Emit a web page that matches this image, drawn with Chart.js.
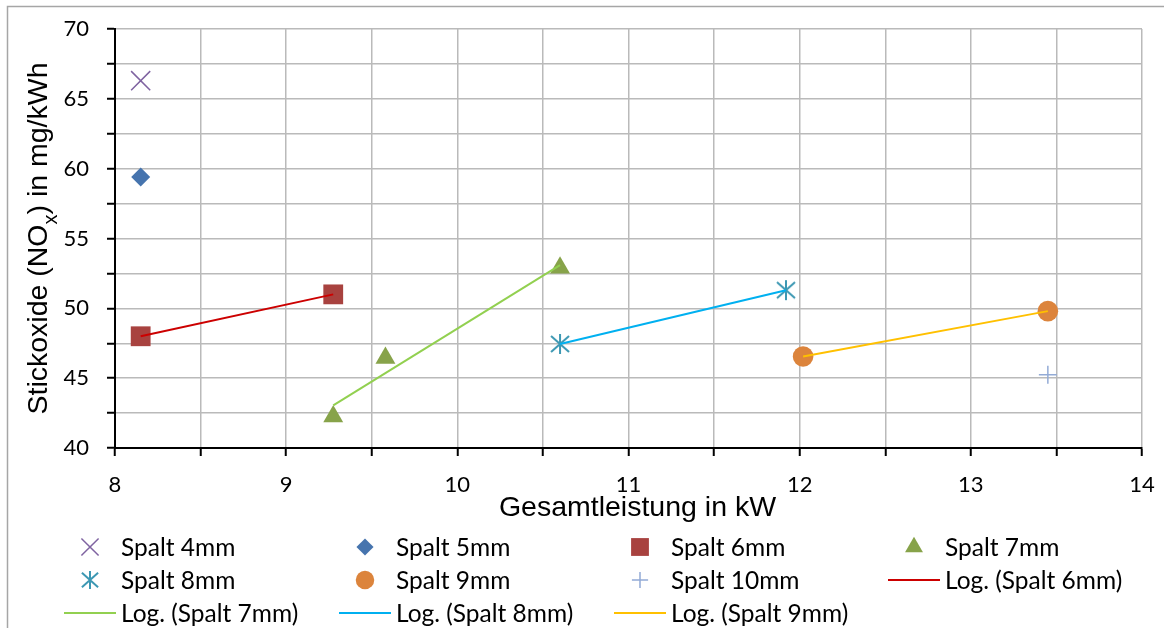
<!DOCTYPE html>
<html>
<head>
<meta charset="utf-8">
<script src="https://cdn.jsdelivr.net/npm/chart.js@4.4.1/dist/chart.umd.min.js"></script>
<style>
  html, body { margin: 0; padding: 0; background: #fff; }
  #wrap { width: 1164px; height: 628px; }
</style>
</head>
<body>
<div id="wrap"><canvas id="chart" width="1164" height="628"></canvas></div>
<script>
(function () {
    "use strict";

    // Messwerte: x = Gesamtleistung in kW, y = NOx in mg/kWh
    var spalt4X = [8.15],               spalt4Y = [66.3];
    var spalt5X = [8.15],               spalt5Y = [59.4];
    var spalt6X = [8.15, 9.275],        spalt6Y = [48.0, 51.0];
    var spalt7X = [9.275, 9.58, 10.6],  spalt7Y = [42.25, 46.45, 52.9];
    var spalt8X = [10.6, 11.92],        spalt8Y = [47.45, 51.3];
    var spalt9X = [12.02, 13.45],       spalt9Y = [46.55, 49.8];
    var spalt10X = [13.45],             spalt10Y = [45.25];

    // Log. Trendlinien (Endpunkte)
    var log6X = [8.15, 9.275],  log6Y = [48.0, 51.0];
    var log7X = [9.275, 10.6],  log7Y = [43.05, 53.1];
    var log8X = [10.6, 11.92],  log8Y = [47.45, 51.3];
    var log9X = [12.02, 13.45], log9Y = [46.55, 49.8];

    // Achsenbeschriftung
    var xTickLabels = [8, 9, 10, 11, 12, 13, 14];
    var yTickLabels = [40, 45, 50, 55, 60, 65, 70];

    function pts(xs, ys) {
        return xs.map(function (x, i) { return {x: x, y: ys[i]}; });
    }

    // Excel-Sternchen: X mit senkrechtem Strich
    function asterisk(size, color, lw) {
        var c = document.createElement('canvas');
        c.width = size; c.height = size;
        var g = c.getContext('2d');
        var m = size / 2, r = size / 2 - 1;
        g.strokeStyle = color;
        g.lineWidth = lw;
        g.beginPath();
        g.moveTo(m, m - r); g.lineTo(m, m + r);
        g.moveTo(m - r * 0.9, m - r * 0.8); g.lineTo(m + r * 0.9, m + r * 0.8);
        g.moveTo(m - r * 0.9, m + r * 0.8); g.lineTo(m + r * 0.9, m - r * 0.8);
        g.stroke();
        return c;
    }

    var starBig = asterisk(22, '#3D98B3', 2);
    var starSmall = asterisk(20, '#3D98B3', 2);

    function marker(label, xs, ys, style, radius, color, bw, legendStyle) {
        return {
            label: label,
            data: pts(xs, ys),
            pointStyle: style,
            pointRadius: radius,
            pointHoverRadius: radius,
            pointBackgroundColor: color,
            pointBorderColor: color,
            pointBorderWidth: bw,
            showLine: false,
            order: 1,
            legendStyle: legendStyle || style
        };
    }

    function trend(label, xs, ys, color) {
        return {
            label: label,
            data: pts(xs, ys),
            showLine: true,
            borderColor: color,
            borderWidth: 2,
            pointRadius: 0,
            pointHoverRadius: 0,
            order: 0,
            isTrend: true
        };
    }

    var datasets = [
        marker('Spalt 4mm', spalt4X, spalt4Y, 'crossRot', 13.5, '#7F63A1', 1.5),
        marker('Spalt 5mm', spalt5X, spalt5Y, 'rectRot', 9.5, '#4674AE', 0),
        marker('Spalt 6mm', spalt6X, spalt6Y, 'rect', 14, '#A8423F', 0),
        marker('Spalt 7mm', spalt7X, spalt7Y, 'triangle', 11.5, '#87A34A', 0),
        marker('Spalt 8mm', spalt8X, spalt8Y, starBig, 10, '#3D98B3', 0, starSmall),
        marker('Spalt 9mm', spalt9X, spalt9Y, 'circle', 10.3, '#DC843C', 0),
        marker('Spalt 10mm', spalt10X, spalt10Y, 'cross', 9, '#93ABD6', 1.5),
        trend('Log. (Spalt 6mm)', log6X, log6Y, '#CC0000'),
        trend('Log. (Spalt 7mm)', log7X, log7Y, '#92D050'),
        trend('Log. (Spalt 8mm)', log8X, log8Y, '#00B0F0'),
        trend('Log. (Spalt 9mm)', log9X, log9Y, '#FFC000')
    ];

    // Rahmen um das Diagramm
    var framePlugin = {
        id: 'frame',
        beforeDraw: function (chart) {
            var ctx = chart.ctx;
            ctx.save();
            ctx.fillStyle = '#ffffff';
            ctx.fillRect(0, 0, chart.width, chart.height);
            ctx.strokeStyle = '#a6a6a6';
            ctx.lineWidth = 1.5;
            ctx.strokeRect(7.5, 6.5, chart.width + 20, chart.height + 20);
            ctx.restore();
        }
    };

    // Achsentitel (mit tiefgestelltem x)
    var titlePlugin = {
        id: 'titles',
        afterDraw: function (chart) {
            var ctx = chart.ctx, area = chart.chartArea;
            ctx.save();
            ctx.fillStyle = '#000';
            ctx.textBaseline = 'alphabetic';
            ctx.textAlign = 'center';
            ctx.font = '28.5px "Liberation Sans", Arial, sans-serif';
            ctx.fillText('Gesamtleistung in kW', (area.left + area.right) / 2 + 9, 516);

            var parts = [
                {t: 'Stickoxide (NO', f: '28.5px "Liberation Sans", Arial, sans-serif', dy: 0},
                {t: 'x', f: '20px "Liberation Sans", Arial, sans-serif', dy: 10},
                {t: ') in mg/kWh', f: '28.5px "Liberation Sans", Arial, sans-serif', dy: 0}
            ];
            var total = 0;
            parts.forEach(function (p) { ctx.font = p.f; p.w = ctx.measureText(p.t).width; total += p.w; });
            ctx.translate(46.5, (area.top + area.bottom) / 2);
            ctx.rotate(-Math.PI / 2);
            ctx.textAlign = 'left';
            var x = -total / 2;
            parts.forEach(function (p) {
                ctx.font = p.f;
                ctx.fillText(p.t, x, p.dy);
                x += p.w;
            });
            ctx.restore();
        }
    };

    // Legende im Raster 4 x 3
    var legendPlugin = {
        id: 'gridLegend',
        afterDraw: function (chart) {
            var ctx = chart.ctx;
            var colX = [90, 365, 640, 914];
            var rowY = [547, 580, 613];
            ctx.save();
            chart.data.datasets.forEach(function (ds, i) {
                var cx = colX[i % 4], cy = rowY[Math.floor(i / 4)];
                if (ds.isTrend) {
                    ctx.strokeStyle = ds.borderColor;
                    ctx.lineWidth = 2;
                    ctx.beginPath();
                    ctx.moveTo(cx - 26, cy);
                    ctx.lineTo(cx + 26, cy);
                    ctx.stroke();
                } else {
                    ctx.fillStyle = ds.pointBackgroundColor;
                    ctx.strokeStyle = ds.pointBorderColor;
                    ctx.lineWidth = ds.pointBorderWidth;
                    Chart.helpers.drawPoint(ctx, {
                        pointStyle: ds.legendStyle,
                        radius: ds.pointRadius * 0.9,
                        rotation: 0,
                        borderWidth: ds.pointBorderWidth
                    }, cx, cy);
                }
                ctx.fillStyle = '#000';
                ctx.font = '24.5px Lato, "Open Sans", sans-serif';
                ctx.textAlign = 'left';
                ctx.textBaseline = 'middle';
                ctx.fillText(ds.label, cx + 31, cy + 1);
            });
            ctx.restore();
        }
    };

    var tickFont = {family: 'Lato, "Open Sans", sans-serif', size: 22};

    new Chart(document.getElementById('chart'), {
        type: 'scatter',
        data: {datasets: datasets},
        options: {
            responsive: false,
            animation: false,
            layout: {padding: {left: 0, top: 29, right: 22, bottom: 105}},
            plugins: {
                legend: {display: false},
                tooltip: {enabled: false}
            },
            scales: {
                x: {
                    type: 'linear',
                    min: 8, max: 14,
                    afterFit: function (s) {
                        s.height = 75;
                        s.paddingLeft = 0;
                        s.paddingRight = 0;
                    },
                    ticks: {
                        stepSize: 0.5,
                        autoSkip: false,
                        maxRotation: 0,
                        padding: 16,
                        color: '#000',
                        font: tickFont,
                        callback: function (v) { return xTickLabels.indexOf(v) >= 0 ? String(v) : ''; }
                    },
                    grid: {
                        color: '#bababa',
                        lineWidth: 1.5,
                        tickColor: '#000',
                        tickWidth: 2,
                        tickLength: 8
                    },
                    border: {color: '#000', width: 2}
                },
                y: {
                    min: 40, max: 70,
                    afterFit: function (s) {
                        s.width = 115;
                        s.paddingTop = 0;
                        s.paddingBottom = 0;
                    },
                    ticks: {
                        stepSize: 2.5,
                        autoSkip: false,
                        padding: 18,
                        color: '#000',
                        font: tickFont,
                        callback: function (v) { return yTickLabels.indexOf(v) >= 0 ? String(v) : ''; }
                    },
                    grid: {
                        color: '#bababa',
                        lineWidth: 1.5,
                        tickColor: '#000',
                        tickWidth: 2,
                        tickLength: 8
                    },
                    border: {color: '#000', width: 2}
                }
            }
        },
        plugins: [framePlugin, titlePlugin, legendPlugin]
    });
})();
</script>
</body>
</html>
